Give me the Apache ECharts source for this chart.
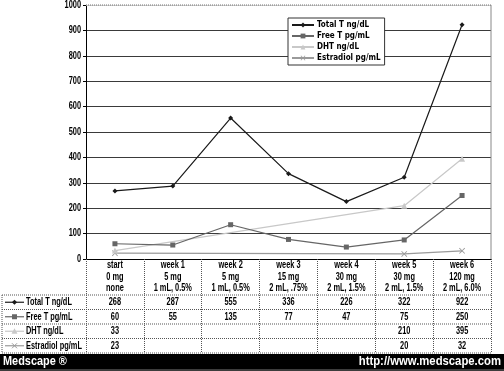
<!DOCTYPE html>
<html><head><meta charset="utf-8">
<script src="https://cdn.jsdelivr.net/npm/echarts@6/dist/echarts.min.js"></script>
<style>html,body{margin:0;padding:0;background:#fff}#c{width:504px;height:371px}</style>
</head><body><div id="c"></div>
<script>
const categories = ['start\n0 mg\nnone','week 1\n5 mg\n1 mL, 0.5%','week 2\n5 mg\n1 mL, 0.5%','week 3\n15 mg\n2 mL, .75%','week 4\n30 mg\n2 mL, 1.5%','week 5\n30 mg\n2 mL, 1.5%','week 6\n120 mg\n2 mL, 6.0%'];
const seriesNames = ['Total T ng/dL','Free T pg/mL','DHT ng/dL','Estradiol pg/mL'];
const totalT = [268,287,555,336,226,322,922];
const freeT = [60,55,135,77,47,75,250];
const dht = [33,null,null,null,null,210,395];
const estradiol = [23,null,null,null,null,20,32];
const yTicks = [0,100,200,300,400,500,600,700,800,900,1000];
const seriesData = [totalT, freeT, dht, estradiol];

const FONT = "'Liberation Sans',Arial,sans-serif";
const SX = 0.74;
const colors = ['#1a1a1a','#666666','#c8c8c8','#9a9a9a'];
const xPath = 'path://M0,1L1,0L5,4L9,0L10,1L6,5L10,9L9,10L5,6L1,10L0,9L4,5Z';
const symbols = ['diamond','rect','triangle',xPath];
const symSizes = [5,5,6,6];

const chart = echarts.init(document.getElementById('c'), null, {renderer:'canvas'});
const option = {
  animation:false,
  backgroundColor:'#fff',
  grid:{left:86, right:13, top:5, bottom:112, containLabel:false},
  legend:{
    orient:'vertical', left:288, top:18, itemWidth:22, itemHeight:6, itemGap:3,
    padding:[3,4,3,3], borderColor:'#333', borderWidth:1, backgroundColor:'#fff',
    textStyle:{fontFamily:"'DejaVu Sans Condensed',sans-serif", fontWeight:'bold', fontSize:8, color:'#000', padding:[0,0,0,-2]},
    data: seriesNames
  },
  xAxis:{
    type:'category', data:categories, boundaryGap:true,
    axisLine:{lineStyle:{color:'#000', width:1}},
    axisTick:{show:true, interval:0, length:94, lineStyle:{color:'#555', type:[1,1]}},
    axisLabel:{show:false},
    splitLine:{show:false}
  },
  yAxis:{
    type:'value', min:yTicks[0], max:yTicks[yTicks.length-1], interval:yTicks[1]-yTicks[0],
    axisLine:{show:true, lineStyle:{color:'#000'}},
    axisTick:{show:true, length:3, lineStyle:{color:'#000'}},
    axisLabel:{show:false},
    splitLine:{lineStyle:{color:'#3a3a3a', width:1}}
  },
  series: seriesNames.map((n,i)=>({
    name:n, type:'line', data:seriesData[i], connectNulls:true,
    symbol:symbols[i], symbolSize:symSizes[i], showSymbol:true,
    lineStyle:{color:colors[i], width:1.2},
    itemStyle:{color:colors[i]},
    z: 10-i
  }))
};
chart.setOption(option);

const cx = categories.map((c,i)=>chart.convertToPixel({xAxisIndex:0}, i));
const rowTops = [295, 309.5, 324, 338.5, 353];
const g = [];
function txt(x,y,t,align,size){
  return {type:'text', x:x, y:y, scaleX:SX, z:100,
    style:{text:t, fontFamily:FONT, fontWeight:'bold', fontSize:size||10, fill:'#000', align:align||'center', verticalAlign:'middle'}};
}
// top border over 1000 gridline
g.push({type:'line', z:50, shape:{x1:86,y1:5,x2:491,y2:5}, style:{stroke:'#fff', lineWidth:1.5}});
g.push({type:'line', z:51, shape:{x1:86,y1:5,x2:491,y2:5}, style:{stroke:'#777', lineWidth:1, lineDash:[1,1]}});
// right border of plot
g.push({type:'line', z:50, shape:{x1:491,y1:5,x2:491,y2:259}, style:{stroke:'#888', lineWidth:1}});
// y tick labels
yTicks.forEach(v=>{
  const y = chart.convertToPixel({yAxisIndex:0}, v);
  g.push(txt(81, y, String(v), 'right', 10));
});
// header (category) labels
categories.forEach((c,i)=>{
  c.split('\n').forEach((line,k)=>g.push(txt(cx[i], 265.5+k*11.5, line, 'center', 10)));
});
// table horizontal lines
rowTops.forEach(y=>g.push({type:'line', shape:{x1:2,y1:y,x2:491,y2:y}, style:{stroke:'#555', lineWidth:1, lineDash:[1,1]}}));
g.push({type:'line', shape:{x1:2,y1:295,x2:2,y2:353}, style:{stroke:'#555', lineWidth:1, lineDash:[1,1]}});
// row labels with symbols
seriesNames.forEach((n,r)=>{
  const yc = (rowTops[r]+rowTops[r+1])/2;
  g.push({type:'line', shape:{x1:5,y1:yc,x2:24,y2:yc}, style:{stroke:colors[r], lineWidth:1.2}});
  const sx=14.5, s=2.6;
  if(r===0) g.push({type:'polygon', shape:{points:[[sx,yc-s],[sx+s,yc],[sx,yc+s],[sx-s,yc]]}, style:{fill:colors[r]}});
  if(r===1) g.push({type:'rect', shape:{x:sx-2.5,y:yc-2.5,width:5,height:5}, style:{fill:colors[r]}});
  if(r===2) g.push({type:'polygon', shape:{points:[[sx,yc-3],[sx+3,yc+2.5],[sx-3,yc+2.5]]}, style:{fill:colors[r]}});
  if(r===3) { g.push({type:'line', shape:{x1:sx-2.5,y1:yc-2.5,x2:sx+2.5,y2:yc+2.5}, style:{stroke:colors[r], lineWidth:1}});
              g.push({type:'line', shape:{x1:sx-2.5,y1:yc+2.5,x2:sx+2.5,y2:yc-2.5}, style:{stroke:colors[r], lineWidth:1}}); }
  g.push(txt(26, yc, n, 'left', 10));
  seriesData[r].forEach((v,i)=>{
    if(v===null) return;
    g.push(txt(cx[i], yc, String(v), 'center', 10));
  });
});
// footer
g.push({type:'rect', shape:{x:0,y:354,width:504,height:15}, style:{fill:'#000'}});
g.push({type:'rect', shape:{x:0,y:369,width:504,height:2}, style:{fill:'#3c3c3c'}});
g.push({type:'text', x:3, y:361.5, scaleX:0.84, style:{text:'Medscape ®', fontFamily:FONT, fontWeight:'bold', fontSize:13, fill:'#fff', verticalAlign:'middle'}});
g.push({type:'text', x:501, y:361.5, scaleX:0.87, style:{text:'http://www.medscape.com', fontFamily:FONT, fontWeight:'bold', fontSize:13, fill:'#fff', align:'right', verticalAlign:'middle'}});
chart.setOption({graphic:{elements:g}});
</script></body></html>
